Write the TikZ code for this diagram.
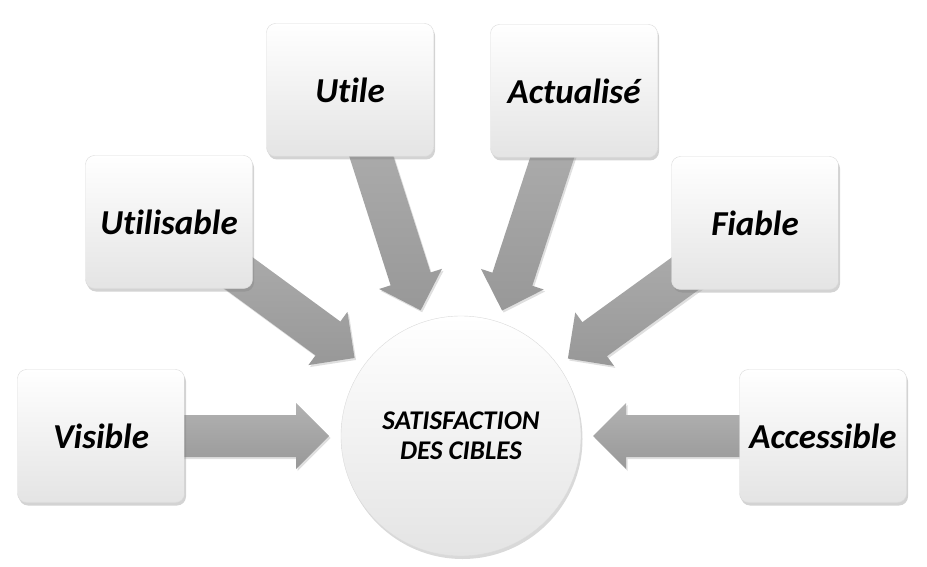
\documentclass[tikz,border=0pt]{standalone}
\usepackage{fontspec}
\setmainfont{Carlito}[Ligatures=NoCommon]
\usetikzlibrary{calc,shadows,backgrounds}
\definecolor{boxedge}{HTML}{DADADA}
\definecolor{boxlow}{HTML}{E4E4E4}
\definecolor{arrowtop}{HTML}{B2B2B2}
\definecolor{arrowlow}{HTML}{989898}

\tikzset{
  box/.style={draw=boxedge, rounded corners=9pt, minimum width=167pt, minimum height=133pt,
    top color=white, middle color=white, bottom color=boxlow,
    font=\fontsize{35}{40}\selectfont\bfseries\itshape,
    drop shadow={opacity=0.35, shadow xshift=1.5pt, shadow yshift=-3pt}},
  hub/.style={draw=boxedge, circle, minimum size=240pt, align=center,
    top color=white, middle color=white, bottom color=boxlow,
    font=\fontsize{27}{30}\selectfont\bfseries\itshape,
    drop shadow={opacity=0.3, shadow xshift=1.5pt, shadow yshift=-3pt}},
  arrowbody/.style={top color=arrowtop, bottom color=arrowlow,
    drop shadow={opacity=0.25, shadow xshift=1.5pt, shadow yshift=-2pt}}
}

% block arrow from a box towards the hub
\newcommand{\blockarrow}[2]{%
  \coordinate (tip) at ($(#2.center)!132pt!(#1.center)$);
  \coordinate (neck) at ($(tip)!33pt!(#1.center)$);
  \path[arrowbody] ($(#1.center)!21pt!90:(tip)$) -- ($(neck)!21pt!90:(tip)$)
    -- ($(neck)!33pt!90:(tip)$) -- (tip) -- ($(neck)!33pt!-90:(tip)$)
    -- ($(neck)!21pt!-90:(tip)$) -- ($(#1.center)!21pt!-90:(tip)$) -- cycle;}

\begin{document}
\begin{tikzpicture}[x=1pt, y=-1pt]
        \useasboundingbox (0,0) rectangle (927,567);

        % Nodes
        \node[hub] (sat) at (461,436) {SATISFACTION\\DES CIBLES};
        \node[box] (vis) at (101,436) {Visible};
        \node[box] (utb) at (169,222) {Utilisable};
        \node[box] (utl) at (350,90) {Utile};
        \node[box] (act) at (574,91) {Actualisé};
        \node[box] (fia) at (755,223) {Fiable};
        \node[box] (acc) at (823,436) {Accessible};

        % Arrows
        \begin{pgfonlayer}{background}
          \blockarrow{vis}{sat}
          \blockarrow{utb}{sat}
          \blockarrow{utl}{sat}
          \blockarrow{act}{sat}
          \blockarrow{fia}{sat}
          \blockarrow{acc}{sat}
        \end{pgfonlayer}
    \end{tikzpicture}
\end{document}
